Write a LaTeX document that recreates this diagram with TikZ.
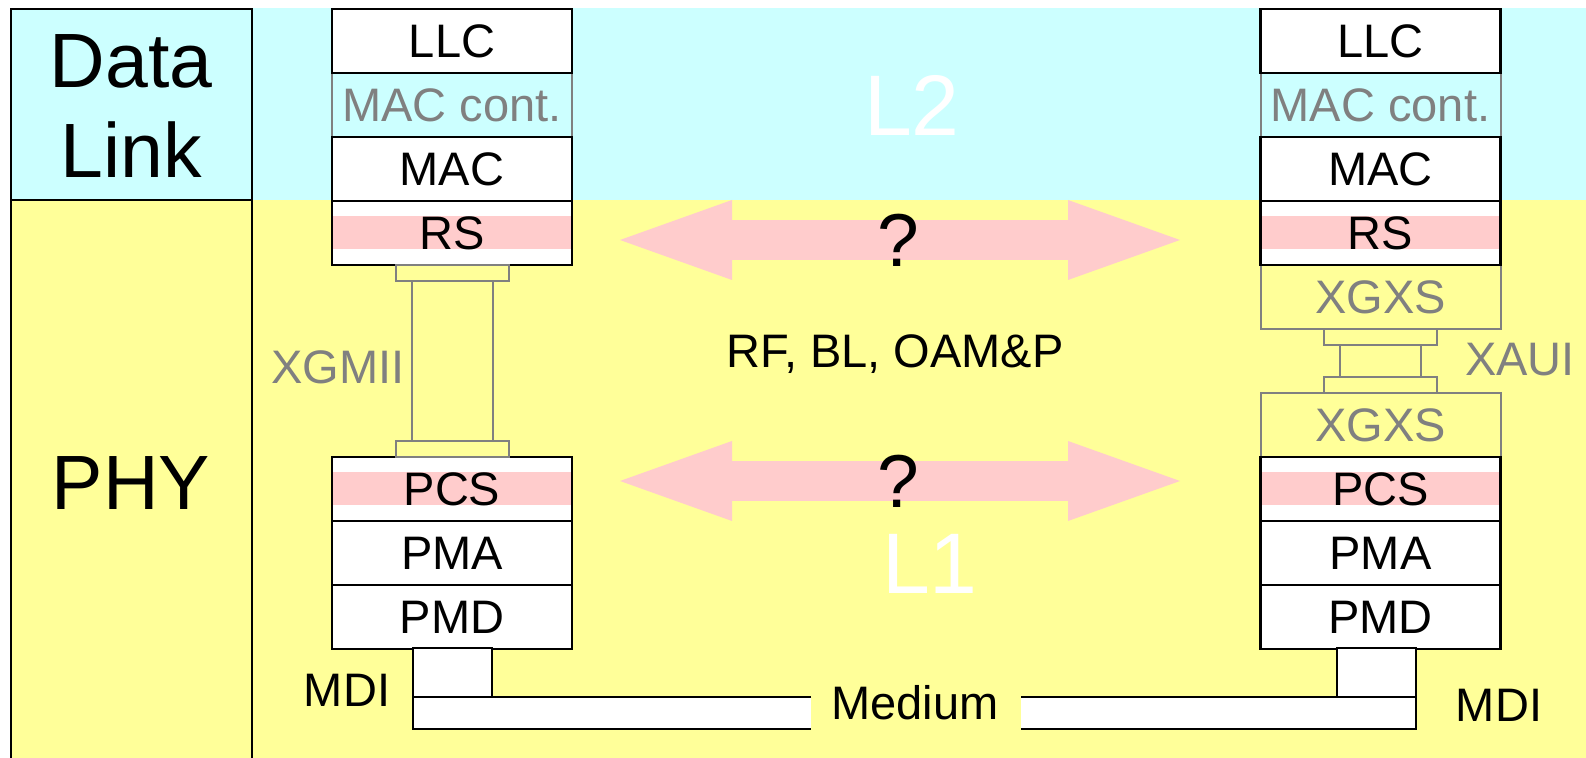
\documentclass[tikz,border=0pt]{standalone}
\usepackage{fontspec}
\setmainfont{Liberation Sans}
\usetikzlibrary{arrows.meta}
\definecolor{linkcyan}{HTML}{CCFFFF}
\definecolor{phyyellow}{HTML}{FFFF99}
\definecolor{bandpink}{HTML}{FFCCCC}
\definecolor{softgray}{HTML}{808080}

\begin{document}
\begin{tikzpicture}[
  x=0.5pt,y=-0.5pt,
  layer/.style={
    draw=black,
    fill=white,
    line width=1.35pt,
    inner sep=0pt,
    minimum width=120pt,
    minimum height=32pt,
    font=\fontsize{23.5}{28}\selectfont
  },
  ghost/.style={
    layer,
    draw=softgray,
    fill=none,
    text=softgray,
    line width=1pt
  },
  banded/.style={
    layer,
    path picture={\fill[bandpink] ([yshift=8.25pt]path picture bounding box.west)
      rectangle ([yshift=-8.25pt]path picture bounding box.east);}
  },
  iface/.style={draw=softgray,line width=1pt},
  medium/.style={draw=black,fill=white,line width=1.35pt},
  sidetext/.style={inner sep=0pt,font=\fontsize{23.5}{28}\selectfont},
  bigtext/.style={inner sep=0pt,align=center,font=\fontsize{38.5}{45}\selectfont},
  levtext/.style={inner sep=0pt,text=white,font=\fontsize{43}{50}\selectfont},
  biarrow/.style={
    draw=bandpink,
    line width=20pt,
    {Triangle[length=56pt,width=40pt,line width=0pt]}-{Triangle[length=56pt,width=40pt,line width=0pt]}
  }
]
  \useasboundingbox (0,0) rectangle (1586,758);

  % backgrounds
  \fill[linkcyan] (252,8) rectangle (1586,200);
  \fill[phyyellow] (252,200) rectangle (1586,758);
  \filldraw[fill=linkcyan,draw=black,line width=1.35pt] (11,9) rectangle (252,200);
  \filldraw[fill=phyyellow,draw=black,line width=1.35pt] (11,200) rectangle (252,775);

  \node[bigtext] (dl) at (131,106) {Data\\Link};
  \node[bigtext] (phy) at (131,483) {PHY};

  \node[levtext] (l2) at (912,105) {L2};
  \node[levtext] (l1) at (930,564) {L1};

  % left stack
  \node[ghost] (maccL) at (452,105) {MAC cont.};
  \node[layer] (llcL) at (452,41) {LLC};
  \node[layer] (macL) at (452,169) {MAC};
  \node[banded] (rsL) at (452,233) {RS};
  \node[banded] (pcsL) at (452,489) {PCS};
  \node[layer] (pmaL) at (452,553) {PMA};
  \node[layer] (pmdL) at (452,617) {PMD};

  % right stack
  \node[ghost] (maccR) at (1380.5,105) {MAC cont.};
  \node[ghost] (xgxsU) at (1380.5,297) {XGXS};
  \node[ghost] (xgxsD) at (1380.5,425) {XGXS};
  \node[layer] (llcR) at (1380.5,41) {LLC};
  \node[layer] (macR) at (1380.5,169) {MAC};
  \node[banded] (rsR) at (1380.5,233) {RS};
  \node[banded] (pcsR) at (1380.5,489) {PCS};
  \node[layer] (pmaR) at (1380.5,553) {PMA};
  \node[layer] (pmdR) at (1380.5,617) {PMD};

  % XGMII
  \draw[iface] (396,265) rectangle (509,281);
  \draw[iface] (412,281) rectangle (493,441);
  \draw[iface] (396,441) rectangle (509,457);
  \node[sidetext,text=softgray] (xgmii) at (338,367) {XGMII};

  % XAUI
  \draw[iface] (1324,329) rectangle (1437,345);
  \draw[iface] (1340,345) rectangle (1421,377);
  \draw[iface] (1324,377) rectangle (1437,393);
  \node[sidetext,text=softgray] (xaui) at (1520,360) {XAUI};

  % peer arrows
  \coordinate (l2w) at (620,240);
  \coordinate (l2e) at (1180,240);
  \coordinate (l1w) at (620,481);
  \coordinate (l1e) at (1180,481);
  \draw[biarrow] (l2w) -- (l2e);
  \draw[biarrow] (l1w) -- (l1e);
  \node[inner sep=0pt,font=\fontsize{37.5}{44}\selectfont] (q2) at (898,240) {?};
  \node[inner sep=0pt,font=\fontsize{37.5}{44}\selectfont] (q1) at (898,481) {?};
  \node[sidetext] (oam) at (895,354) {RF, BL, OAM\&P};

  % medium
  \draw[medium] (413,648) rectangle (492,697);
  \draw[medium] (1337,648) rectangle (1416,697);
  \filldraw[medium] (811,697) -- (413,697) -- (413,729) -- (811,729);
  \filldraw[medium] (1021,697) -- (1416,697) -- (1416,729) -- (1021,729);
  \node[sidetext] (med) at (915,703) {Medium};
  \node[sidetext] (mdiL) at (347,690) {MDI};
  \node[sidetext] (mdiR) at (1499,705) {MDI};
\end{tikzpicture}
\end{document}
